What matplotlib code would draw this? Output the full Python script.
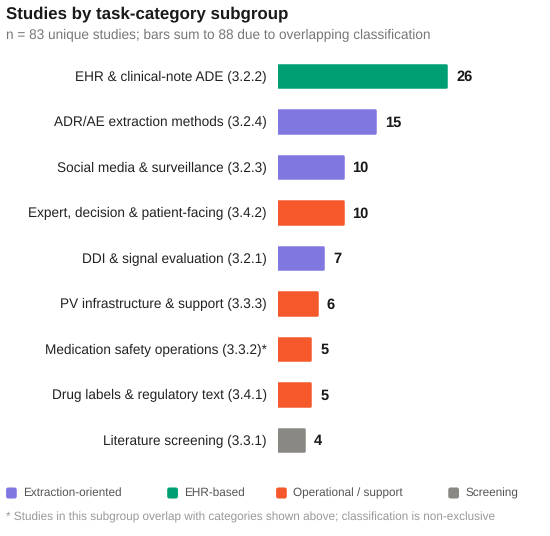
import matplotlib
matplotlib.use("Agg")
import matplotlib.pyplot as plt
from matplotlib.patches import FancyBboxPatch

plt.rcParams['font.family'] = ['Liberation Sans', 'DejaVu Sans']
plt.rcParams['text.hinting'] = 'no_hinting'

categories = [
    "EHR & clinical-note ADE (3.2.2)",
    "ADR/AE extraction methods (3.2.4)",
    "Social media & surveillance (3.2.3)",
    "Expert, decision & patient-facing (3.4.2)",
    "DDI & signal evaluation (3.2.1)",
    "PV infrastructure & support (3.3.3)",
    "Medication safety operations (3.3.2)*",
    "Drug labels & regulatory text (3.4.1)",
    "Literature screening (3.3.1)",
]
values = [26, 15, 10, 10, 7, 6, 5, 5, 4]
groups = ["EHR-based", "Extraction-oriented", "Extraction-oriented", "Operational / support",
          "Extraction-oriented", "Operational / support", "Operational / support",
          "Operational / support", "Screening"]
legend_order = ["Extraction-oriented", "EHR-based", "Operational / support", "Screening"]
colors = {
    "Extraction-oriented": "#8078E0",
    "EHR-based": "#009E73",
    "Operational / support": "#F5592B",
    "Screening": "#8A8882",
}

fig = plt.figure(figsize=(5.5, 5.36), dpi=100)
ax = fig.add_axes([0.5055, 0.1367, 0.4945, 0.764])

ypos = list(range(len(categories)))
bars = ax.barh(ypos, values, height=0.5, color=[colors[g] for g in groups],
               edgecolor=[colors[g] for g in groups], linewidth=1.8)
for b in bars:
    b.set_joinstyle('round')

ax.set_ylim(len(categories) - 0.5, -0.5)
ax.set_xlim(0, 42)
ax.set_yticks(ypos)
ax.set_yticklabels(categories, fontsize=9.8, color="#222222")
ax.tick_params(axis='y', length=0, pad=8)
ax.set_xticks([])
for s in ax.spines.values():
    s.set_visible(False)

for y, v in zip(ypos, values):
    ax.text(v + 1.5, y + 0.03, str(v), va='center', ha='left', fontsize=10.5, fontweight='bold', color="#1a1a1a")

fig.text(0.011, 1 - 14 / 536, "Studies by task-category subgroup", fontsize=12.2, fontweight='bold',
         color="#1a1a1a", va='center', ha='left')
fig.text(0.011, 1 - 35 / 536, "n = 83 unique studies; bars sum to 88 due to overlapping classification",
         fontsize=9.8, color="#777777", va='center', ha='left')

# legend
leg_x = [0.011, 0.304, 0.502, 0.815]
leg_y = 1 - 493 / 536
for lx, g in zip(leg_x, legend_order):
    fig.patches.append(FancyBboxPatch((lx, leg_y - 0.0103), 0.0195, 0.0206,
                                      boxstyle="round,pad=0,rounding_size=0.004",
                                      transform=fig.transFigure, facecolor=colors[g],
                                      edgecolor='none'))
    fig.text(lx + 0.031, leg_y, g, fontsize=8.5, color="#555555", va='center', ha='left')

fig.text(0.011, 1 - 517 / 536,
         "* Studies in this subgroup overlap with categories shown above; classification is non-exclusive",
         fontsize=8.5, color="#999999", va='center', ha='left')

fig.savefig("out.png", dpi=100, facecolor="white")
